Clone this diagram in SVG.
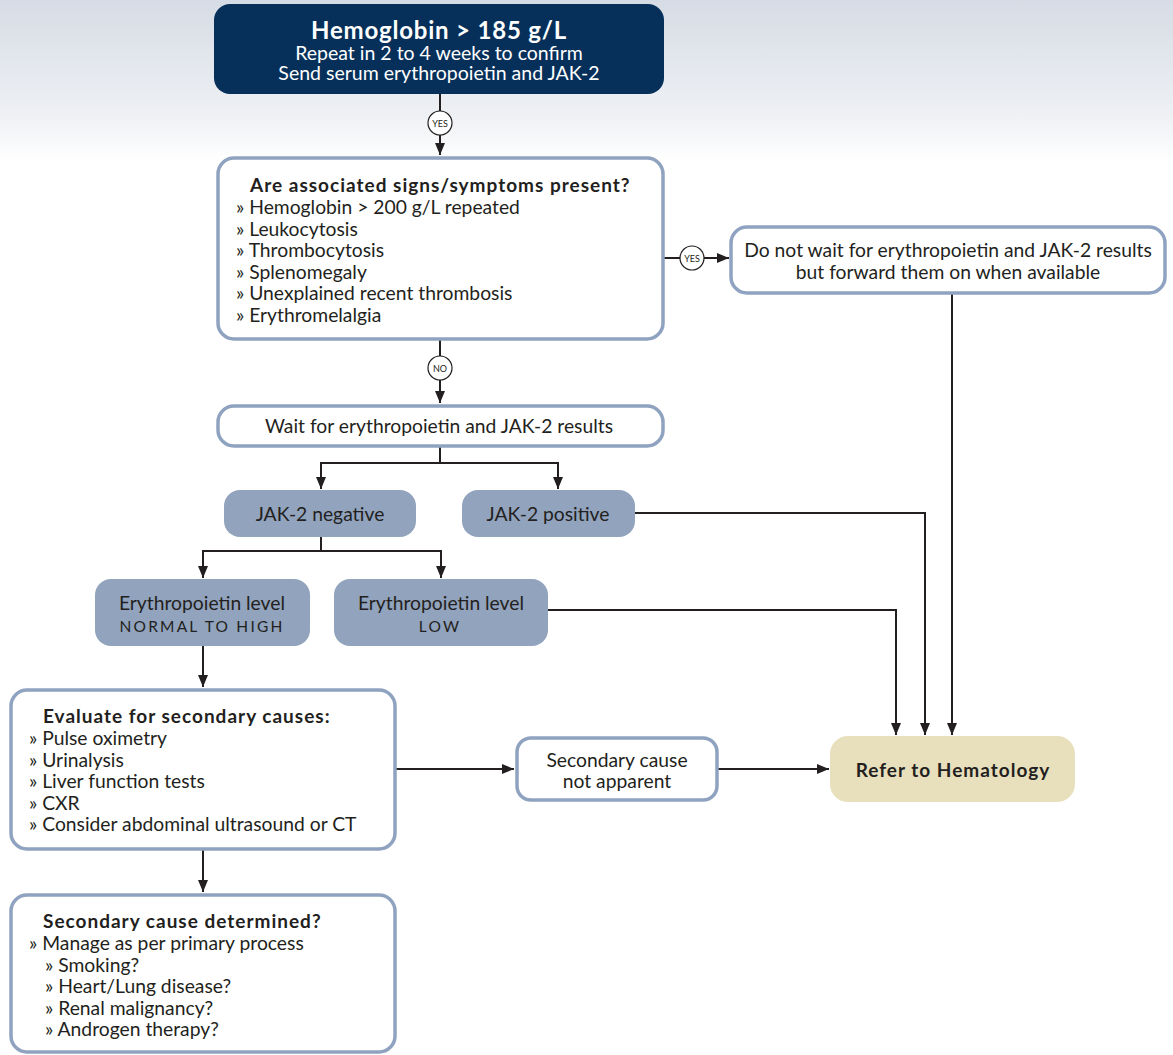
<svg xmlns="http://www.w3.org/2000/svg" width="1173" height="1055" viewBox="0 0 1173 1055">
<defs>
<linearGradient id="bg" x1="0" y1="0" x2="0" y2="1">
<stop offset="0" stop-color="#d6dce5"/>
<stop offset="0.7" stop-color="#eef0f4"/>
<stop offset="1" stop-color="#ffffff"/>
</linearGradient>
<marker id="ah" markerWidth="12" markerHeight="10" refX="12" refY="5" orient="auto" markerUnits="userSpaceOnUse">
<path d="M0,0 L12,5 L0,10 Z" fill="#231f20"/>
</marker>
<style>
text{font-family:Lato,"Open Sans","Liberation Sans",sans-serif;fill:#231f20;}
.t{font-size:19.3px;}
.b{font-size:19px;font-weight:bold;letter-spacing:1px;}
.c{text-anchor:middle;}
.ob{fill:#ffffff;stroke:#8fa3c0;stroke-width:3.5;}
.gb{fill:#91a3bd;}
.ln{fill:none;stroke:#231f20;stroke-width:2;}
.cir{fill:#ffffff;stroke:#231f20;stroke-width:1.2;}
.lab{font-size:9px;text-anchor:middle;}
.caps{font-size:15.5px;letter-spacing:2.2px;text-anchor:middle;}
</style>
</defs>
<rect x="0" y="0" width="1173" height="162" fill="url(#bg)"/>

<g id="connectors">
<path class="ln" d="M440,94 V155" marker-end="url(#ah)"/>
<path class="ln" d="M664,258 H729" marker-end="url(#ah)"/>
<path class="ln" d="M440,340 V403" marker-end="url(#ah)"/>
<path class="ln" d="M440,447 V463 H321 V489" marker-end="url(#ah)"/>
<path class="ln" d="M440,463 H558 V489" marker-end="url(#ah)"/>
<path class="ln" d="M321,537 V551 H203 V578" marker-end="url(#ah)"/>
<path class="ln" d="M321,551 H441 V578" marker-end="url(#ah)"/>
<path class="ln" d="M635,513 H925 V735" marker-end="url(#ah)"/>
<path class="ln" d="M548,610 H896 V735" marker-end="url(#ah)"/>
<path class="ln" d="M952,294 V735" marker-end="url(#ah)"/>
<path class="ln" d="M203,646 V687" marker-end="url(#ah)"/>
<path class="ln" d="M396,769 H514" marker-end="url(#ah)"/>
<path class="ln" d="M718,769 H829" marker-end="url(#ah)"/>
<path class="ln" d="M203,850 V892" marker-end="url(#ah)"/>
<circle class="cir" cx="440" cy="123" r="12"/>
<text class="lab" x="440" y="126.5">YES</text>
<circle class="cir" cx="692" cy="258" r="12"/>
<text class="lab" x="692" y="261.5">YES</text>
<circle class="cir" cx="440" cy="368" r="12"/>
<text class="lab" x="440" y="371.5">NO</text>
</g>

<g id="n-start">
<rect x="214" y="4" width="450" height="90" rx="16" fill="#06305a"/>
<text class="c" x="439" y="39" style="font-size:24px;font-weight:bold;letter-spacing:0.8px;fill:#ffffff">Hemoglobin &gt; 185 g/L</text>
<text class="c" x="439" y="60" style="font-size:19.5px;fill:#ffffff">Repeat in 2 to 4 weeks to confirm</text>
<text class="c" x="439" y="80" style="font-size:19.5px;fill:#ffffff">Send serum erythropoietin and JAK-2</text>
</g>

<g id="n-signs">
<rect class="ob" x="218" y="158" width="445" height="181" rx="16"/>
<text class="b" x="250" y="192">Are associated signs/symptoms present?</text>
<text class="t" x="236" y="214">» Hemoglobin &gt; 200 g/L repeated</text>
<text class="t" x="236" y="235.5">» Leukocytosis</text>
<text class="t" x="236" y="257">» Thrombocytosis</text>
<text class="t" x="236" y="278.5">» Splenomegaly</text>
<text class="t" x="236" y="300">» Unexplained recent thrombosis</text>
<text class="t" x="236" y="321.5">» Erythromelalgia</text>
</g>

<g id="n-nowait">
<rect class="ob" x="731" y="227" width="434" height="66" rx="16"/>
<text class="t c" x="948" y="257">Do not wait for erythropoietin and JAK-2 results</text>
<text class="t c" x="948" y="279">but forward them on when available</text>
</g>

<g id="n-wait">
<rect class="ob" x="218" y="406" width="445" height="40" rx="16"/>
<text class="t c" x="439" y="433">Wait for erythropoietin and JAK-2 results</text>
</g>

<g id="n-jakneg">
<rect class="gb" x="224" y="490" width="192" height="47" rx="16"/>
<text class="t c" x="320" y="521">JAK-2 negative</text>
</g>

<g id="n-jakpos">
<rect class="gb" x="462" y="490" width="173" height="47" rx="16"/>
<text class="t c" x="548" y="521">JAK-2 positive</text>
</g>

<g id="n-epohigh">
<rect class="gb" x="95" y="579" width="215" height="67" rx="16"/>
<text class="t c" x="202" y="610">Erythropoietin level</text>
<text class="caps" x="202" y="632">NORMAL TO HIGH</text>
</g>

<g id="n-epolow">
<rect class="gb" x="334" y="579" width="214" height="67" rx="16"/>
<text class="t c" x="441" y="610">Erythropoietin level</text>
<text class="caps" x="440" y="632">LOW</text>
</g>

<g id="n-evaluate">
<rect class="ob" x="11" y="690" width="384" height="159" rx="16"/>
<text class="b" x="43" y="723">Evaluate for secondary causes:</text>
<text class="t" x="29" y="745">» Pulse oximetry</text>
<text class="t" x="29" y="766.5">» Urinalysis</text>
<text class="t" x="29" y="788">» Liver function tests</text>
<text class="t" x="29" y="809.5">» CXR</text>
<text class="t" x="29" y="831">» Consider abdominal ultrasound or CT</text>
</g>

<g id="n-notapparent">
<rect class="ob" x="517" y="738" width="200" height="62" rx="14"/>
<text class="t c" x="617" y="767">Secondary cause</text>
<text class="t c" x="617" y="788">not apparent</text>
</g>

<g id="n-refer">
<rect x="830" y="736" width="245" height="66" rx="18" fill="#e8dfbd"/>
<text class="b c" x="953" y="777">Refer to Hematology</text>
</g>

<g id="n-determined">
<rect class="ob" x="11" y="895" width="384" height="157" rx="16"/>
<text class="b" x="43" y="928">Secondary cause determined?</text>
<text class="t" x="29" y="950">» Manage as per primary process</text>
<text class="t" x="45" y="971.5">» Smoking?</text>
<text class="t" x="45" y="993">» Heart/Lung disease?</text>
<text class="t" x="45" y="1014.5">» Renal malignancy?</text>
<text class="t" x="45" y="1036">» Androgen therapy?</text>
</g>
</svg>
